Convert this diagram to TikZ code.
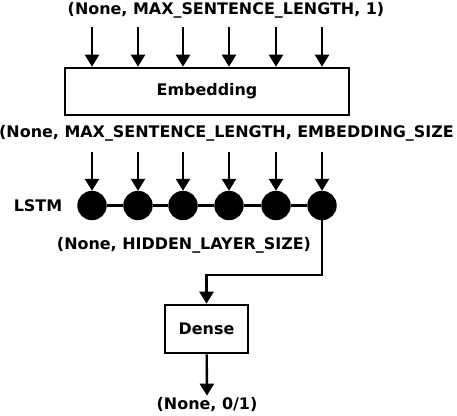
\documentclass[tikz,border=0pt]{standalone}
\usepackage{fontspec}
\setmainfont{DejaVu Sans}
\usetikzlibrary{arrows.meta}
\begin{document}
\begin{tikzpicture}[x=1bp, y=-1bp, >={Triangle[length=12bp,width=14bp]}, line width=2.4bp,
    rotulo/.style={inner sep=1bp, font=\bfseries\fontsize{16}{19}\selectfont},
    bloco/.style={draw, rectangle, line width=2.6bp, font=\bfseries\fontsize{16}{19}\selectfont},
    celula/.style={draw, circle, fill=black, minimum size=27bp, inner sep=0pt}]
\useasboundingbox (0,0) rectangle (457,415);
% Entrada
\node[rotulo] (entrada) at (226,10) {(None, MAX\_SENTENCE\_LENGTH, 1)};
% Embedding
\node[bloco, minimum width=284bp, minimum height=47bp] (emb) at (207,91.5) {Embedding};
\foreach \i/\x in {1/92,2/138,3/183,4/229,5/276,6/322} {
  \coordinate (in\i) at (\x,27);
  \draw[->] (in\i) -- (in\i |- emb.north);
}
\node[rotulo, anchor=east] (saidaemb) at (456,133) {(None, MAX\_SENTENCE\_LENGTH, EMBEDDING\_SIZE};
% LSTM
\node[rotulo] (lstm) at (38,206) {LSTM};
\foreach \i/\x in {1/92,2/138,3/183,4/229,5/276,6/322} {
  \node[celula] (l\i) at (\x,205.5) {};
  \coordinate (e\i) at (\x,152);
  \draw[->] (e\i) -- (l\i);
}
\foreach \i [evaluate=\i as \j using int(\i+1)] in {1,...,5}
  \draw (l\i) -- (l\j);
\node[rotulo] (oculta) at (184,245) {(None, HIDDEN\_LAYER\_SIZE)};
% Dense
\node[bloco, minimum width=83bp, minimum height=48bp] (dense) at (206.5,329) {Dense};
\coordinate (dobra) at (322,275);
\draw[->] (l6) -- (dobra) -| (dense.north);
% Saida
\node[rotulo] (saida) at (207,405) {(None, 0/1)};
\draw[->] (dense) -- (saida.north);
\end{tikzpicture}
\end{document}
